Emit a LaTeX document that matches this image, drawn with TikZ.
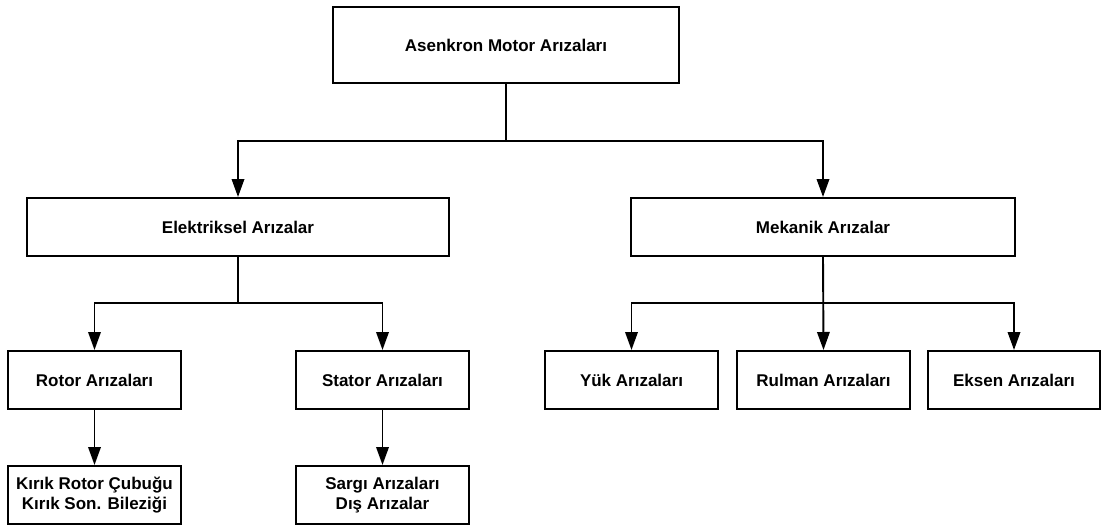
\documentclass[tikz,border=0pt]{standalone}
\usepackage{fontspec}
\setmainfont{Liberation Sans}
\usetikzlibrary{arrows.meta}

\begin{document}
\begin{tikzpicture}[
  x=1pt, y=-1pt,
  box/.style={draw=black, line width=2pt, fill=white, inner sep=0pt,
    align=center, font=\fontsize{17}{20}\selectfont\bfseries},
  wire/.style={draw=black, line width=1.9pt},
  link/.style={wire, -{Triangle[length=18pt,width=12.5pt]}}
]
% canvas
\fill[white] (0,0) rectangle (1102,525);
\useasboundingbox (0,0) rectangle (1102,525);

% level 0
\node[box, minimum width=346pt, minimum height=76pt] (root) at (506,45) {Asenkron Motor Arızaları};

% level 1
\node[box, minimum width=422pt, minimum height=58pt] (elek) at (238,227) {Elektriksel Arızalar};
\node[box, minimum width=384pt, minimum height=58pt] (mek) at (823,227) {Mekanik Arızalar};

% level 2
\node[box, minimum width=173pt, minimum height=58pt] (rotor) at (94.5,380) {Rotor Arızaları};
\node[box, minimum width=173pt, minimum height=58pt] (stator) at (382.5,380) {Stator Arızaları};
\node[box, minimum width=173pt, minimum height=58pt] (yuk) at (631.5,380) {Yük Arızaları};
\node[box, minimum width=173pt, minimum height=58pt] (rulman) at (823.5,380) {Rulman Arızaları};
\node[box, minimum width=172pt, minimum height=58pt] (eksen) at (1014,380) {Eksen Arızaları};

% level 3
\node[box, minimum width=173pt, minimum height=58pt] (kirik) at (94.5,495) {Kırık Rotor Çubuğu\\Kırık Son. Bileziği};
\node[box, minimum width=173pt, minimum height=58pt] (sargi) at (382.5,495) {Sargı Arızaları\\Dış Arızalar};

% branching points
\coordinate (j0) at (506,141);
\coordinate (j1) at (238,303);
\coordinate (j2) at (823,303);

% connectors
\draw[wire] (root.south) -- (j0);
\draw[link] (j0) -| (elek.north);
\draw[link] (j0) -| (mek.north);

\draw[wire] (elek.south) -- (j1);
\draw[link] (j1) -| (rotor.north);
\draw[link] (j1) -| (stator.north);

\draw[link] (mek.south) -- (rulman.north);
\draw[link] (j2) -| (yuk.north);
\draw[link] (j2) -| (eksen.north);

\draw[link] (rotor.south) -- (kirik.north);
\draw[link] (stator.south) -- (sargi.north);
\end{tikzpicture}
\end{document}
